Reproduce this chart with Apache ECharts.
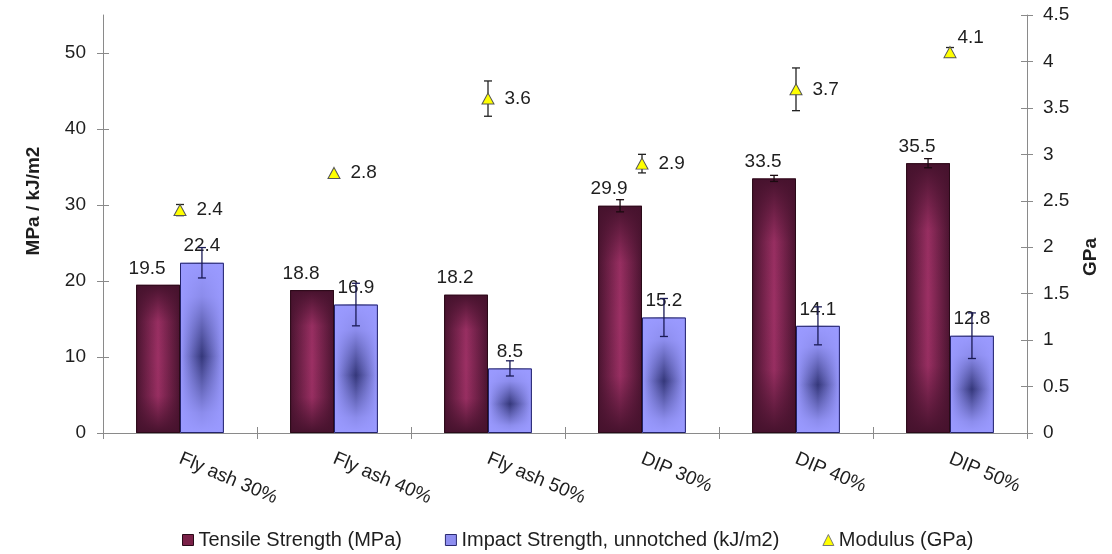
<!DOCTYPE html>
<html><head><meta charset="utf-8">
<script src="https://cdn.jsdelivr.net/npm/echarts@6/dist/echarts.min.js"></script>
<style>html,body{margin:0;padding:0;background:#fff}#c{width:1112px;height:554px}</style>
</head><body><div id="c"></div>
<script>
const categories = ['Fly ash 30%','Fly ash 40%','Fly ash 50%','DIP 30%','DIP 40%','DIP 50%'];
const tensile    = [19.5, 18.8, 18.2, 29.9, 33.5, 35.5];
const tensileErr = [0, 0, 0, 0.8, 0.4, 0.6];
const impact     = [22.4, 16.9, 8.5, 15.2, 14.1, 12.8];
const impactErr  = [2.0, 2.8, 1.0, 2.5, 2.5, 3.0];
const modulus    = [2.4, 2.8, 3.6, 2.9, 3.7, 4.1];
const modulusErr = [0.06, 0, 0.19, 0.1, 0.23, 0.05];
const leftTicks  = [0, 10, 20, 30, 40, 50];
const rightTicks = [0, 0.5, 1, 1.5, 2, 2.5, 3, 3.5, 4, 4.5];
const NAME_T = 'Tensile Strength (MPa)';
const NAME_I = 'Impact Strength, unnotched (kJ/m2)';
const NAME_M = 'Modulus (GPa)';

const FONT = 'Liberation Sans, Arial, sans-serif';
const TXT = '#1e1e1e';
const AX = '#8a8a8a';
const CAT_GAP = 0.43;
const FS = 19;

const LG = echarts.graphic.LinearGradient;
const hGrad = (edge, mid) => new LG(0,0,1,0,[{offset:0,color:edge},{offset:0.5,color:mid},{offset:1,color:edge}]);
const vShade = (rgb, stops) => new LG(0,0,0,1, stops.map(s => ({offset:s[0], color:'rgba('+rgb+','+s[1]+')'})));

function errSeries(vals, errs, side, yIdx, color, name) {
  return {
    type:'custom', name:name, xAxisIndex:0, yAxisIndex:yIdx, z:4, silent:true,
    data: vals.map((v,i) => [i, v, errs[i]]),
    encode:{x:0, y:1},
    renderItem(params, api) {
      const i = api.value(0), v = api.value(1), e = api.value(2);
      if (!e) return null;
      const catW = api.size([1,0])[0];
      const bw = catW * (1 - CAT_GAP) / 2;
      const c = api.coord([i, v]);
      const x = c[0] + side * bw / 2;
      const top = api.coord([i, v + e])[1], bot = api.coord([i, v - e])[1];
      const cap = 4, st = {stroke:color, lineWidth:1.3};
      return {type:'group', children:[
        {type:'line', shape:{x1:x,y1:top,x2:x,y2:bot}, style:st},
        {type:'line', shape:{x1:x-cap,y1:top,x2:x+cap,y2:top}, style:st},
        {type:'line', shape:{x1:x-cap,y1:bot,x2:x+cap,y2:bot}, style:st}
      ]};
    }
  };
}

const chart = echarts.init(document.getElementById('c'), null, {renderer:'canvas'});
chart.setOption({
  animation:false,
  textStyle:{fontFamily:FONT},
  grid:{left:103, right:85, top:15, bottom:121, containLabel:false},
  legend:{
    left:182, top:530, padding:0, itemWidth:11, itemHeight:11, itemGap:43,
    textStyle:{fontSize:20, color:TXT, fontFamily:FONT},
    data:[
      {name:NAME_T, icon:'rect', itemStyle:{color:'#7a2148', borderColor:'#2a0a18', borderWidth:1}},
      {name:NAME_I, icon:'rect', itemStyle:{color:'#8e8ef0', borderColor:'#2a2a70', borderWidth:1}},
      {name:NAME_M, icon:'triangle', itemStyle:{color:'#ffff00', borderColor:'#777', borderWidth:1}}
    ]
  },
  xAxis:[
    {type:'category', data:categories, position:'bottom',
     axisLine:{onZero:false, lineStyle:{color:AX, width:1}},
     axisTick:{show:true, length:6, lineStyle:{color:AX}},
     axisLabel:{interval:0, rotate:-23, margin:25, fontSize:FS, color:TXT, fontFamily:FONT}},
    {type:'category', data:categories, position:'bottom',
     axisLine:{show:false, onZero:false},
     axisTick:{show:true, inside:true, length:6, lineStyle:{color:AX}},
     axisLabel:{show:false}}
  ],
  yAxis:[
    {type:'value', position:'left', min:0, max:55, interval:10,
     name:'MPa / kJ/m2', nameLocation:'middle', nameGap:60, nameRotate:90,
     nameTextStyle:{fontSize:FS, fontWeight:'bold', color:TXT, padding:[0,0,0,46]},
     axisLine:{show:true, lineStyle:{color:AX}},
     axisTick:{show:true, length:6, lineStyle:{color:AX}, customValues:leftTicks},
     splitLine:{show:false},
     axisLabel:{fontSize:FS, color:TXT, margin:17, customValues:leftTicks,
       formatter:v => leftTicks.indexOf(v) >= 0 ? String(v) : ''}},
    {type:'value', position:'right', min:0, max:4.5, interval:0.5,
     name:'GPa', nameLocation:'middle', nameGap:54, nameRotate:90,
     nameTextStyle:{fontSize:FS, fontWeight:'bold', color:TXT, padding:[0,66,0,0]},
     axisLine:{show:true, lineStyle:{color:AX}},
     axisTick:{show:true, length:6, lineStyle:{color:AX}},
     splitLine:{show:false},
     axisLabel:{fontSize:FS, color:TXT, margin:16,
       formatter:v => rightTicks.indexOf(v) >= 0 ? String(v) : ''}},
    {type:'value', position:'left', min:0, max:55, interval:10,
     axisLine:{show:false}, splitLine:{show:false}, axisLabel:{show:false},
     axisTick:{show:true, inside:true, length:6, lineStyle:{color:AX}, customValues:leftTicks}},
    {type:'value', position:'right', min:0, max:4.5, interval:0.5,
     axisLine:{show:false}, splitLine:{show:false}, axisLabel:{show:false},
     axisTick:{show:true, inside:true, length:6, lineStyle:{color:AX}}}
  ],
  series:[
    {type:'bar', name:NAME_T, xAxisIndex:0, yAxisIndex:0, data:tensile,
     barGap:'0%', barCategoryGap:(CAT_GAP*100)+'%',
     itemStyle:{color:hGrad('#4a1430', '#9c3064')},
     label:{show:true, position:'top', distance:7, offset:[-11,0], fontSize:FS, color:TXT, fontFamily:FONT}},
    {type:'bar', name:NAME_I, xAxisIndex:0, yAxisIndex:0, data:impact,
     barGap:'0%', barCategoryGap:(CAT_GAP*100)+'%',
     itemStyle:{color:hGrad('#9a9aff', '#34377a')},
     label:{show:true, position:'top', distance:7, fontSize:FS, color:TXT, fontFamily:FONT}},
    {type:'bar', name:'tensileShade', xAxisIndex:1, yAxisIndex:0, data:tensile, silent:true,
     barGap:'0%', barCategoryGap:(CAT_GAP*100)+'%',
     itemStyle:{color:vShade('70,18,45', [[0,1],[0.25,0.05],[0.5,0],[0.75,0.05],[1,1]]), borderColor:'#2a0a18', borderWidth:1}},
    {type:'bar', name:'impactShade', xAxisIndex:1, yAxisIndex:0, data:impact, silent:true,
     barGap:'0%', barCategoryGap:(CAT_GAP*100)+'%',
     itemStyle:{color:vShade('154,154,255', [[0,1],[0.2,0.85],[0.55,0],[0.88,0.85],[1,1]]), borderColor:'#23236a', borderWidth:1}},
    errSeries(tensile, tensileErr, -1, 0, '#1a0a10', 'tensileErr'),
    errSeries(impact, impactErr, 1, 0, '#1a1a55', 'impactErr'),
    errSeries(modulus, modulusErr, 0, 1, '#222', 'modulusErr'),
    {type:'scatter', name:NAME_M, xAxisIndex:0, yAxisIndex:1, z:5,
     symbol:'triangle', symbolSize:[12,11],
     itemStyle:{color:'#ffff00', borderColor:'#555', borderWidth:1, opacity:1},
     label:{show:true, position:'right', distance:10, fontSize:FS, color:TXT, fontFamily:FONT},
     data: modulus.map((v,i) => i === modulus.length - 1
       ? {value:v, label:{offset:[-9,-14]}} : v)}
  ]
});
</script></body></html>
